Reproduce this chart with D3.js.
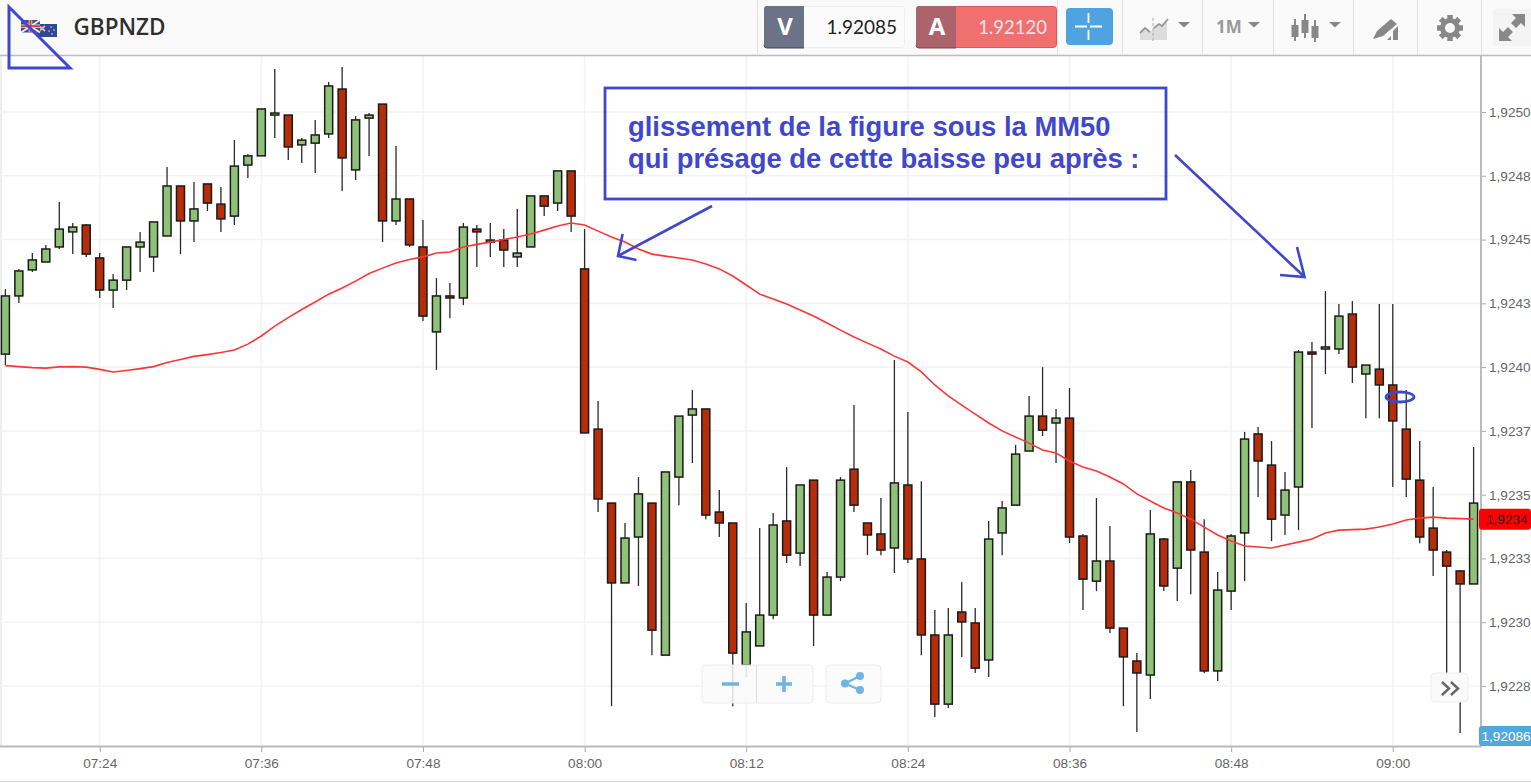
<!DOCTYPE html>
<html><head><meta charset="utf-8">
<script src="https://cdnjs.cloudflare.com/ajax/libs/d3/7.8.5/d3.min.js"></script>
<style>html,body{margin:0;padding:0;background:#fff;overflow:hidden}svg{display:block}text{font-family:"Liberation Sans",Arial,sans-serif}</style>
</head><body><svg id="c" width="1531" height="782"></svg>
<script>
const symbol = "GBPNZD";
const firstMinute = "07:17";
const timeTicks = ["07:24","07:36","07:48","08:00","08:12","08:24","08:36","08:48","09:00"];
const priceTicks = [1.925,1.92475,1.9245,1.92425,1.924,1.92375,1.9235,1.92325,1.923,1.92275];
const priceLabels = ["1,9250","1,9248","1,9245","1,9243","1,9240","1,9237","1,9235","1,9233","1,9230","1,9228"];
const bidPrice = "1.92085", askPrice = "1.92120", lastTag = "1,9234", bottomTag = "1,92086";
const lastTagValue = 1.923404;
const note = ["glissement de la figure sous la MM50","qui présage de cette baisse peu après :"];

const opens = [1.924051,1.924279,1.924381,1.924412,1.924471,1.924530,1.924557,1.924428,1.924302,1.924341,
1.924471,1.924432,1.924514,1.924710,1.924573,1.924718,1.924639,1.924592,1.924792,1.924828,
1.924988,1.924988,1.924871,1.924878,1.924914,1.925090,1.924773,1.924976,1.925031,1.924573,
1.924659,1.924471,1.924138,1.924279,1.924271,1.924541,1.924490,1.924498,1.924432,1.924471,
1.924671,1.924643,1.924769,1.924385,1.923757,1.923467,1.923154,1.923334,1.923467,1.922871,
1.923569,1.923812,1.923836,1.923432,1.923389,1.922832,1.922907,1.923028,1.923397,1.923271,
1.923557,1.923028,1.923177,1.923600,1.923389,1.923346,1.923291,1.923538,1.923248,1.922950,
1.922679,1.923040,1.922997,1.922852,1.923350,1.923459,1.923671,1.923808,1.923781,1.923800,
1.923338,1.923161,1.923240,1.922977,1.922848,1.922793,1.923326,1.923212,1.923550,1.923275,
1.922809,1.923122,1.923350,1.923738,1.923616,1.923420,1.923530,1.924059,1.924071,1.924071,
1.924208,1.923973,1.923992,1.923930,1.923757,1.923557,1.923369,1.923275,1.923201,1.923150];
const closes = [1.924279,1.924377,1.924420,1.924463,1.924541,1.924549,1.924443,1.924302,1.924341,1.924471,
1.924490,1.924569,1.924710,1.924573,1.924620,1.924643,1.924581,1.924788,1.924828,1.925012,
1.924996,1.924863,1.924890,1.924910,1.925102,1.924820,1.924969,1.924988,1.924573,1.924659,
1.924479,1.924200,1.924279,1.924271,1.924549,1.924530,1.924498,1.924459,1.924447,1.924671,
1.924631,1.924769,1.924592,1.923742,1.923483,1.923154,1.923330,1.923503,1.922969,1.923589,
1.923808,1.923836,1.923420,1.923389,1.922879,1.922962,1.923028,1.923381,1.923263,1.923538,
1.923028,1.923177,1.923557,1.923459,1.923342,1.923283,1.923546,1.923248,1.922950,1.922679,
1.922950,1.923001,1.922820,1.923326,1.923448,1.923659,1.923808,1.923753,1.923800,1.923334,
1.923169,1.923240,1.922977,1.922864,1.922801,1.923346,1.923142,1.923550,1.923283,1.922809,
1.923126,1.923338,1.923718,1.923632,1.923404,1.923518,1.924059,1.924051,1.924079,1.924200,
1.924000,1.924008,1.923930,1.923789,1.923561,1.923334,1.923283,1.923220,1.923150,1.923467];
const highs = [1.924306,1.924385,1.924447,1.924479,1.924647,1.924565,1.924561,1.924447,1.924365,1.924471,
1.924530,1.924569,1.924784,1.924710,1.924726,1.924718,1.924706,1.924890,1.924835,1.925012,
1.925169,1.924988,1.924898,1.924969,1.925118,1.925176,1.924984,1.924996,1.925031,1.924867,
1.924659,1.924577,1.924349,1.924330,1.924565,1.924557,1.924565,1.924541,1.924620,1.924671,
1.924671,1.924769,1.924769,1.924541,1.923867,1.923467,1.923389,1.923569,1.923467,1.923589,
1.923808,1.923910,1.923836,1.923518,1.923389,1.923075,1.923369,1.923428,1.923608,1.923538,
1.923557,1.923197,1.923569,1.923851,1.923389,1.923487,1.924028,1.923824,1.923553,1.923048,
1.923056,1.923158,1.923056,1.923397,1.923475,1.923695,1.923887,1.924000,1.923836,1.923918,
1.923346,1.923487,1.923377,1.922977,1.922879,1.923440,1.923330,1.923550,1.923597,1.923404,
1.923197,1.923346,1.923746,1.923765,1.923710,1.923589,1.924067,1.924098,1.924298,1.924247,
1.924259,1.924008,1.924247,1.924247,1.923910,1.923710,1.923530,1.923283,1.923205,1.923687];
const lows = [1.924008,1.924251,1.924373,1.924412,1.924463,1.924443,1.924432,1.924271,1.924232,1.924302,
1.924373,1.924373,1.924514,1.924443,1.924490,1.924612,1.924530,1.924557,1.924741,1.924828,
1.924898,1.924812,1.924800,1.924761,1.924898,1.924690,1.924733,1.924828,1.924490,1.924557,
1.924471,1.924181,1.923989,1.924192,1.924243,1.924392,1.924432,1.924392,1.924392,1.924471,
1.924592,1.924612,1.924530,1.923742,1.923432,1.922671,1.923154,1.923142,1.922871,1.922871,
1.923459,1.923624,1.923404,1.923334,1.922671,1.922785,1.922907,1.923012,1.923232,1.923220,
1.922907,1.923028,1.923161,1.923432,1.923263,1.923263,1.923193,1.923232,1.922871,1.922628,
1.922664,1.922864,1.922801,1.922785,1.923263,1.923459,1.923671,1.923730,1.923624,1.923310,
1.923048,1.923122,1.922958,1.922671,1.922570,1.922699,1.923122,1.923083,1.923110,1.922801,
1.922770,1.923048,1.923161,1.923491,1.923318,1.923342,1.923361,1.923761,1.923973,1.924051,
1.923938,1.923800,1.923800,1.923530,1.923491,1.923310,1.923181,1.922801,1.922566,1.923150];
const mm50 = [1.924006,1.924002,1.923998,1.923996,1.924001,1.924002,1.924000,1.923991,1.923981,1.923987,
1.923994,1.924002,1.924018,1.924030,1.924042,1.924049,1.924057,1.924067,1.924090,1.924122,
1.924161,1.924194,1.924226,1.924255,1.924286,1.924310,1.924337,1.924367,1.924388,1.924408,
1.924422,1.924432,1.924447,1.924451,1.924471,1.924481,1.924490,1.924500,1.924510,1.924522,
1.924537,1.924553,1.924565,1.924557,1.924533,1.924510,1.924490,1.924463,1.924443,1.924435,
1.924428,1.924420,1.924404,1.924385,1.924357,1.924322,1.924286,1.924267,1.924247,1.924224,
1.924200,1.924173,1.924145,1.924118,1.924094,1.924071,1.924043,1.924020,1.923981,1.923930,
1.923887,1.923851,1.923816,1.923781,1.923750,1.923726,1.923702,1.923675,1.923663,1.923632,
1.923608,1.923593,1.923569,1.923542,1.923503,1.923475,1.923448,1.923428,1.923404,1.923373,
1.923342,1.923318,1.923299,1.923295,1.923291,1.923303,1.923314,1.923326,1.923350,1.923361,
1.923363,1.923365,1.923373,1.923385,1.923401,1.923408,1.923412,1.923408,1.923406,1.923404];

const BLUE = "#3f48cc", GREEN = "#8fc278", RED = "#b72d0a";
const toMin = s => { const [h,m] = s.split(":").map(Number); return h*60+m; };
const svg = d3.select("#c");
const start = toMin(firstMinute);
const x = d3.scaleLinear().domain([start, start+opens.length-1]).range([5.4,1473.6]);
const y = d3.scaleLinear().domain([1.92275,1.925]).range([686,112]);
const candles = opens.map((o,i)=>({t:start+i,o,c:closes[i],h:highs[i],l:lows[i]}));

svg.append("rect").attr("width",1531).attr("height",782).attr("fill","#fff");
svg.append("rect").attr("x",0).attr("y",56).attr("width",2).attr("height",690).attr("fill","#eee");

// grid
const grid = svg.append("g");
grid.selectAll(".h").data(priceTicks).join("line").attr("x1",0).attr("x2",1481)
  .attr("y1",d=>y(d)).attr("y2",d=>y(d)).attr("stroke","#f3f3f3").attr("stroke-width",1.6);
grid.selectAll(".v").data(timeTicks).join("line").attr("y1",56).attr("y2",746)
  .attr("x1",d=>x(toMin(d))).attr("x2",d=>x(toMin(d))).attr("stroke","#f3f3f3").attr("stroke-width",1.6);

// candles
const cg = svg.append("g");
cg.selectAll("line").data(candles).join("line")
  .attr("x1",d=>x(d.t)).attr("x2",d=>x(d.t)).attr("y1",d=>y(d.h)).attr("y2",d=>y(d.l))
  .attr("stroke","#2a2a2a").attr("stroke-width",1.3);
cg.selectAll("rect").data(candles).join("rect")
  .attr("x",d=>x(d.t)-4).attr("width",8)
  .attr("y",d=>y(Math.max(d.o,d.c))).attr("height",d=>Math.max(1.5,Math.abs(y(d.o)-y(d.c))))
  .attr("fill",d=>d.c>=d.o?GREEN:RED).attr("stroke","#1a1a1a").attr("stroke-width",1.5);

// MM50
svg.append("path").datum(mm50)
  .attr("d",d3.line().x((d,i)=>x(start+i)).y(d=>y(d)))
  .attr("fill","none").attr("stroke","#ff3535").attr("stroke-width",1.6);

// axes
const axR = svg.append("g").attr("transform","translate(1481,0)")
  .call(d3.axisRight(y).tickValues(priceTicks).tickSize(5).tickPadding(3).tickFormat((d,i)=>priceLabels[i]));
const axB = svg.append("g").attr("transform","translate(0,746)")
  .call(d3.axisBottom(x).tickValues(timeTicks.map(toMin)).tickSize(6).tickPadding(6).tickFormat((d,i)=>timeTicks[i]));
[axR,axB].forEach(a=>{
  a.select(".domain").remove();
  a.selectAll("line").attr("stroke","#aaa");
  a.selectAll("text").attr("fill","#666").attr("font-size",13.6).attr("font-family",'"Liberation Sans",Arial,sans-serif');
});
svg.append("line").attr("x1",1481).attr("x2",1481).attr("y1",56).attr("y2",747).attr("stroke","#bbb").attr("stroke-width",2);
svg.append("line").attr("x1",0).attr("x2",1481).attr("y1",746.5).attr("y2",746.5).attr("stroke","#bbb").attr("stroke-width",2);
svg.append("line").attr("x1",0).attr("x2",1531).attr("y1",781.5).attr("y2",781.5).attr("stroke","#ddd");

// price tags
svg.append("rect").attr("x",1479).attr("y",y(lastTagValue)-10.5).attr("width",52).attr("height",21).attr("rx",3).attr("fill","#ff0000");
svg.append("text").attr("x",1486).attr("y",y(lastTagValue)+5).attr("font-size",13.6).attr("fill","#222").text(lastTag);
svg.append("rect").attr("x",1479).attr("y",726).attr("width",54).attr("height",20).attr("rx",3).attr("fill","#4fa9dc");
svg.append("text").attr("x",1481.5).attr("y",741).attr("font-size",13.6).attr("fill","#fff").attr("font-weight",500).text(bottomTag);

// header
svg.append("rect").attr("width",1531).attr("height",55).attr("fill","#fafafa");
svg.append("line").attr("x1",0).attr("x2",1531).attr("y1",55.5).attr("y2",55.5).attr("stroke","#bdbdbd").attr("stroke-width",1.4);
svg.append("g").selectAll("line").data([757,1057,1122,1202,1273,1353,1417,1481]).join("line")
  .attr("x1",d=>d+.5).attr("x2",d=>d+.5).attr("y1",0).attr("y2",55).attr("stroke","#e2e2e2");

// flags
const fl = svg.append("g");
fl.append("rect").attr("x",37).attr("y",24).attr("width",20).attr("height",13).attr("fill","#2f4a8f");
fl.append("path").attr("d","M39 26l6 5M45 26l-6 5").attr("stroke","#e8b0c0").attr("stroke-width",2);
fl.append("g").selectAll("circle").data([[51,27],[54,30],[49,31],[52,34]]).join("circle").attr("cx",d=>d[0]).attr("cy",d=>d[1]).attr("r",.8).attr("fill","#dde");
fl.append("rect").attr("x",21).attr("y",20).attr("width",19).attr("height",12.5).attr("fill","#3a4d8f");
fl.append("path").attr("d","M21 20l19 12.5M40 20l-19 12.5").attr("stroke","#eee").attr("stroke-width",2);
fl.append("path").attr("d","M30.5 20v12.5M21 26.2h19").attr("stroke","#e8e8e8").attr("stroke-width",3.5);
fl.append("path").attr("d","M30.5 20v12.5M21 26.2h19").attr("stroke","#d83a3a").attr("stroke-width",2);
svg.append("text").attr("x",73.5).attr("y",35).attr("font-size",22.5).attr("font-weight",600).attr("fill","#2f2f2f")
  .style("font-family",'"Open Sans"').text(symbol);

// bid / ask
const num = 'Lato';
svg.append("rect").attr("x",764.5).attr("y",6.5).attr("width",140).attr("height",41).attr("rx",3).attr("fill","#fbfbfb").attr("stroke","#eee");
svg.append("path").attr("d","M767 6h37v42h-37a3 3 0 0 1-3-3v-36a3 3 0 0 1 3-3z").attr("fill","#6c7288");
svg.append("path").attr("d","M764 45a3 3 0 0 0 3 3h37").attr("fill","none").attr("stroke","#3f4560").attr("stroke-width",1);
svg.append("text").attr("x",785).attr("y",35).attr("text-anchor","middle").attr("font-size",24).attr("font-weight",700).attr("fill","#fff").style("font-family",'"Open Sans"').text("V");
svg.append("text").attr("x",897).attr("y",34).attr("text-anchor","end").attr("font-size",19).attr("fill","#222").style("font-family",num).text(bidPrice);
svg.append("rect").attr("x",916.5).attr("y",6.5).attr("width",140).attr("height",41).attr("rx",3).attr("fill","#f07070").attr("stroke","#d85a5a");
svg.append("path").attr("d","M919 6h37v42h-37a3 3 0 0 1-3-3v-36a3 3 0 0 1 3-3z").attr("fill","#ad636b");
svg.append("path").attr("d","M916 45a3 3 0 0 0 3 3h37").attr("fill","none").attr("stroke","#8a3a44");
svg.append("text").attr("x",937).attr("y",35).attr("text-anchor","middle").attr("font-size",24).attr("font-weight",700).attr("fill","#fff").style("font-family",'"Open Sans"').text("A");
svg.append("text").attr("x",1047).attr("y",34).attr("text-anchor","end").attr("font-size",18.5).attr("fill","#e6e6e6").style("font-family",num).text(askPrice);
svg.append("rect").attr("x",1066).attr("y",8).attr("width",47).attr("height",37).attr("rx",4).attr("fill","#4fa3e0");
svg.append("path").attr("d","M1075 26.5h12M1090 26.5h12M1088.5 13v10M1088.5 30v10").attr("stroke","#fff").attr("stroke-width",1.8);

// toolbar icons
const ic = svg.append("g");
ic.selectAll("path.tri").data([1178,1248,1329]).join("path").attr("d",d=>`M${d} 22h12l-6 5.5z`).attr("fill","#888");
ic.append("path").attr("d","M1140 40v-8l5-4 5 4 3-2v-3l5-2 3 1 6-6v20z").attr("fill","#ddd");
ic.append("path").attr("d","M1140 33l5-5 5 4M1154 28l5-4 3 2 6-7").attr("fill","none").attr("stroke","#999").attr("stroke-width",1.8);
ic.append("line").attr("x1",1153).attr("x2",1153).attr("y1",18).attr("y2",41).attr("stroke","#aaa").attr("stroke-dasharray","3 2");
ic.append("text").attr("x",1216).attr("y",33).attr("font-size",17).attr("font-weight",700).attr("fill","#999").style("font-family",'"Open Sans"').text("1M");
[[1295,19,41,25,37],[1305,14,38,20,33],[1315,20,42,26,38]].forEach(d=>{
  ic.append("line").attr("x1",d[0]).attr("x2",d[0]).attr("y1",d[1]).attr("y2",d[2]).attr("stroke","#888").attr("stroke-width",2);
  ic.append("rect").attr("x",d[0]-3.5).attr("width",7).attr("y",d[3]).attr("height",d[4]-d[3]).attr("fill","#888");
});
ic.append("path").attr("d","M1373 39l4-8 14-12 6 5-14 12zM1387 40l4-4v4zM1393 40v-9l5-5v14z").attr("fill","#888");
const gear = d3.range(8).map(k=>{const a=k*Math.PI/4;return `M${1450+9*Math.cos(a)} ${28+9*Math.sin(a)}L${1450+13*Math.cos(a)} ${28+13*Math.sin(a)}`;}).join("");
ic.append("path").attr("d",gear).attr("stroke","#888").attr("stroke-width",5.5);
ic.append("circle").attr("cx",1450).attr("cy",28).attr("r",7.5).attr("fill","none").attr("stroke","#888").attr("stroke-width",5);
ic.append("rect").attr("x",1493).attr("y",9).attr("width",38).attr("height",37).attr("fill","#f4f4f4");
ic.append("path").attr("d","M1512 14h13v13l-4-4-5 5-5-5 5-5zM1499 41v-13l4 4 5-5 5 5-5 5 4 4z").attr("fill","#888");

// bottom buttons
const btn = (bx,by,w,h)=>svg.append("rect").attr("x",bx).attr("y",by).attr("width",w).attr("height",h).attr("rx",4)
  .attr("fill","#fafafa").attr("fill-opacity",.86).attr("stroke","#ececec");
btn(702,665,111,38); btn(826,665,55,38);
svg.append("line").attr("x1",756.5).attr("x2",756.5).attr("y1",665).attr("y2",703).attr("stroke","#ddd");
svg.append("path").attr("d","M722 684h17M776 684h16M784 676v16").attr("stroke","#6eb5e2").attr("stroke-width",3.6);
svg.append("path").attr("d","M845 683.5L860 676M845 683.5L860 690").attr("stroke","#6eb5e2").attr("stroke-width",2.4);
svg.append("g").selectAll("circle").data([[845,683.5],[860,676],[860,690]]).join("circle")
  .attr("cx",d=>d[0]).attr("cy",d=>d[1]).attr("r",4).attr("fill","#6eb5e2");
svg.append("rect").attr("x",1431).attr("y",673).attr("width",37).attr("height",29).attr("rx",4).attr("fill","#fafafa").attr("stroke","#eee");
svg.append("path").attr("d","M1442 682l7 6.5-7 6.5M1451 682l7 6.5-7 6.5").attr("fill","none").attr("stroke","#666").attr("stroke-width",2.4);

// annotation
const an = svg.append("g").attr("fill","none").attr("stroke",BLUE);
an.append("path").attr("d","M9 7V68H70Z").attr("stroke-width",3);
an.append("rect").attr("x",605).attr("y",88).attr("width",561).attr("height",111).attr("stroke-width",2.8);
an.append("path").attr("d","M712 206L618 256M622.6 234L618 256L636.5 260").attr("stroke-width",2.6);
an.append("path").attr("d","M1175 155L1304.6 277M1297 247L1304.6 277L1280 275").attr("stroke-width",2.6);
an.append("ellipse").attr("cx",1400).attr("cy",397).attr("rx",14).attr("ry",5).attr("stroke-width",2.8);
svg.append("g").selectAll("text").data(note).join("text").attr("x",628).attr("y",(d,i)=>136+i*32)
  .attr("font-size",27.4).attr("font-weight",700).attr("fill",BLUE).text(d=>d);
</script></body></html>
